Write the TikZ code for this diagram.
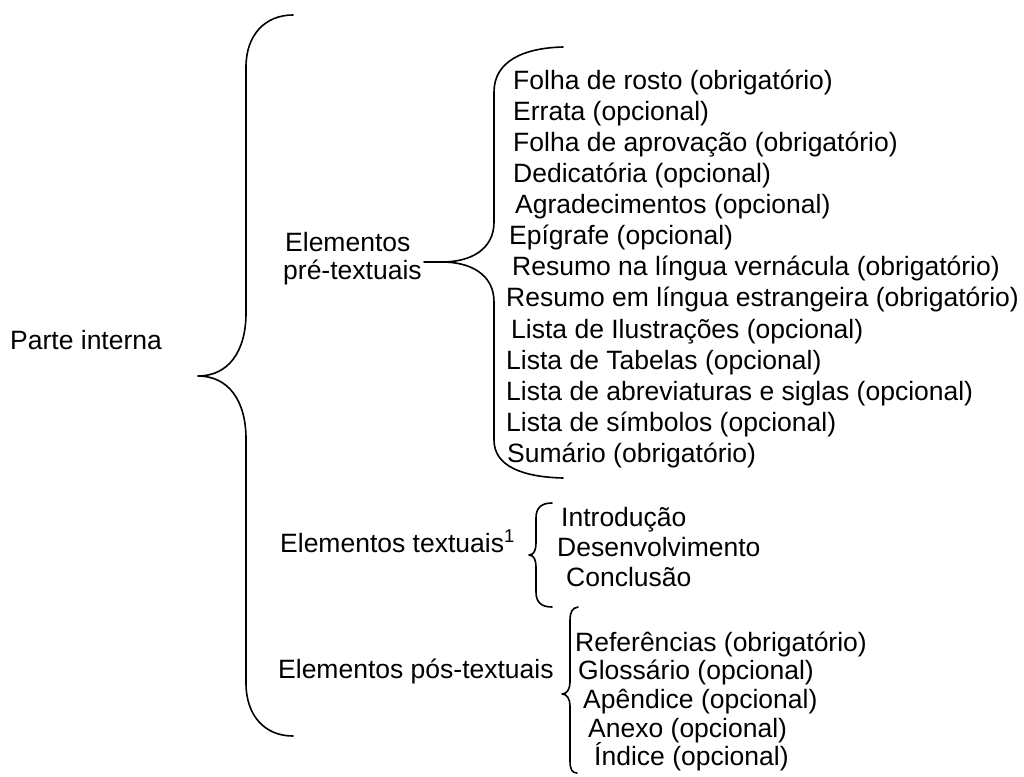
\documentclass[tikz,border=0pt]{standalone}
\usepackage{fontspec}
\setmainfont{Liberation Sans}
\begin{document}
\begin{tikzpicture}[x=1pt,y=-1pt,
  lbl/.style={anchor=base west, inner sep=0pt, font=\fontsize{26.5}{31}\selectfont},
  brace/.style={line width=1.6pt, line join=round, line cap=round}]
\useasboundingbox (0,0) rectangle (1024,776);
% labels
\node[lbl] (parte) at (10,349) {Parte interna};
\node[lbl] (pre1) at (285,251) {Elementos};
\node[lbl] (pre2) at (283,279) {pré-textuais};
\node[lbl] (txt) at (280,552) {Elementos textuais\textsuperscript{1}};
\node[lbl] (pos) at (278,678) {Elementos pós-textuais};
% pre-textual items
\node[lbl] (p1) at (513,89) {Folha de rosto (obrigatório)};
\node[lbl] (p2) at (513,120) {Errata (opcional)};
\node[lbl] (p3) at (513,151) {Folha de aprovação (obrigatório)};
\node[lbl] (p4) at (513,182) {Dedicatória (opcional)};
\node[lbl] (p5) at (515,213) {Agradecimentos (opcional)};
\node[lbl] (p6) at (509,244) {Epígrafe (opcional)};
\node[lbl] (p7) at (512,275) {Resumo na língua vernácula (obrigatório)};
\node[lbl] (p8) at (506,306) {Resumo em língua estrangeira (obrigatório)};
\node[lbl] (p9) at (511,338) {Lista de Ilustrações (opcional)};
\node[lbl] (p10) at (506,369) {Lista de Tabelas (opcional)};
\node[lbl] (p11) at (506,400) {Lista de abreviaturas e siglas (opcional)};
\node[lbl] (p12) at (506,431) {Lista de símbolos (opcional)};
\node[lbl] (p13) at (507,462) {Sumário (obrigatório)};
% textual items
\node[lbl] (t1) at (561,526) {Introdução};
\node[lbl] (t2) at (557,556) {Desenvolvimento};
\node[lbl] (t3) at (566,586) {Conclusão};
% post-textual items
\node[lbl] (q1) at (575,651) {Referências (obrigatório)};
\node[lbl] (q2) at (578,679) {Glossário (opcional)};
\node[lbl] (q3) at (583,708) {Apêndice (opcional)};
\node[lbl] (q4) at (588,737) {Anexo (opcional)};
\node[lbl] (q5) at (594,765) {Índice (opcional)};
% big brace
\coordinate (bA) at (293,15);
\coordinate (bTip) at (198,376);
\coordinate (bB) at (293,736);
\draw[brace] (bA) .. controls (265,15) and (246,35) .. (246,67) -- (246,313)
  .. controls (246,352) and (228,376) .. (bTip)
  .. controls (228,376) and (246,400) .. (246,439) -- (246,683)
  .. controls (246,716) and (265,736) .. (bB);
% pre-textual brace
\coordinate (cA) at (563,47);
\coordinate (cTip) at (424,262);
\coordinate (cB) at (563,478);
\draw[brace] (cA) .. controls (522,48) and (494,62) .. (494,92) -- (494,222)
  .. controls (494,250) and (470,262) .. (442,262) -- (cTip) -- (442,262)
  .. controls (470,262) and (494,274) .. (494,302) -- (494,440)
  .. controls (494,466) and (522,477) .. (cB);
% textual brace
\coordinate (dA) at (552,503);
\coordinate (dTip) at (529,555);
\coordinate (dB) at (552,607);
\draw[brace] (dA) .. controls (541,503) and (536,508) .. (536,518) -- (536,543)
  .. controls (536,550) and (534,555) .. (dTip)
  .. controls (534,555) and (536,560) .. (536,567) -- (536,592)
  .. controls (536,602) and (541,607) .. (dB);
% post-textual brace
\coordinate (eA) at (578,607);
\coordinate (eTip) at (562,694);
\coordinate (eB) at (577,773);
\draw[brace] (eA) .. controls (572,608) and (570,612) .. (570,621) -- (570,682)
  .. controls (570,689) and (567,694) .. (eTip)
  .. controls (567,694) and (570,699) .. (570,706) -- (570,761)
  .. controls (570,769) and (572,773) .. (eB);
\end{tikzpicture}
\end{document}
